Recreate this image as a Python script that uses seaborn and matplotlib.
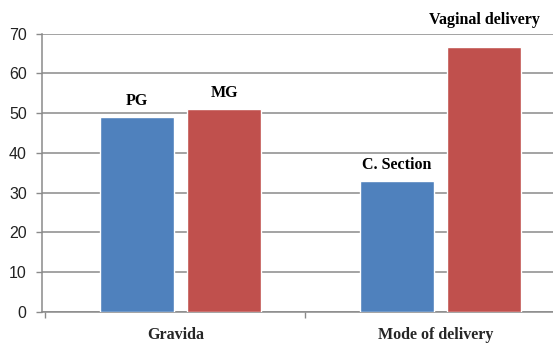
import pandas as pd
import seaborn as sns
import matplotlib.pyplot as plt
from matplotlib.transforms import ScaledTranslation

# values
groups = ['Gravida', 'Gravida', 'Mode of delivery', 'Mode of delivery']
slots = ['first', 'second', 'first', 'second']
labels = ['PG', 'MG', 'C. Section', 'Vaginal delivery']
values = [49, 51, 33, 66.5]

df = pd.DataFrame({'group': groups, 'slot': slots, 'label': labels, 'value': values})

sns.set_theme(style='white')
fig = plt.figure(figsize=(5.53, 3.44), dpi=100)
ax = fig.add_axes([42 / 553, 32 / 344, 1 - 42 / 553, 278.5 / 344])

sns.barplot(data=df, x='group', y='value', hue='slot', palette=['#4F81BD', '#C0504D'],
            width=0.67, gap=0.15, saturation=1, legend=False, ax=ax, zorder=3)

ax.set_ylim(0, 70)
ax.set_xlim(-0.533, 1.433)
ax.set_yticks(range(0, 71, 10))
ax.yaxis.grid(True, color='#8a8a8a', linewidth=1.1, zorder=0)
ax.set_axisbelow(True)

for s in ['top', 'right']:
    ax.spines[s].set_visible(False)
for s in ['left', 'bottom']:
    ax.spines[s].set_color('#8a8a8a')
    ax.spines[s].set_linewidth(1.1)

ax.tick_params(axis='y', left=True, length=4, width=1, color='#8a8a8a', pad=7,
               labelsize=11.5, labelcolor='#222222')
for t in ax.get_yticklabels():
    t.set_family('Liberation Sans')

# category labels, and boundary tick marks below the axis
ax.set_xticks([0, 1])
ax.set_xticklabels(['Gravida', 'Mode of delivery'], family='Liberation Serif',
                   fontweight='bold', fontsize=11.5)
ax.tick_params(axis='x', length=0, pad=11)
shift = ScaledTranslation(-5 / 100, 0, fig.dpi_scale_trans)
for t in ax.get_xticklabels():
    t.set_transform(t.get_transform() + shift)
ax.set_xticks([-0.523, 0.477], minor=True)
ax.tick_params(axis='x', which='minor', bottom=True, length=4, width=1, color='#8a8a8a')
ax.set_xlabel('')
ax.set_ylabel('')

# bar labels above each bar (patches sorted left to right)
bars = sorted(ax.patches, key=lambda p: p.get_x())
offsets = [8, 8, 8, 19]
for bar, lab, off in zip(bars, labels, offsets):
    ax.annotate(lab, (bar.get_x() + bar.get_width() / 2, bar.get_height()),
                xytext=(0, off), textcoords='offset pixels', ha='center', va='bottom',
                family='Liberation Serif', fontweight='bold', fontsize=11.5, color='black')

plt.savefig('out.png', dpi=100)
